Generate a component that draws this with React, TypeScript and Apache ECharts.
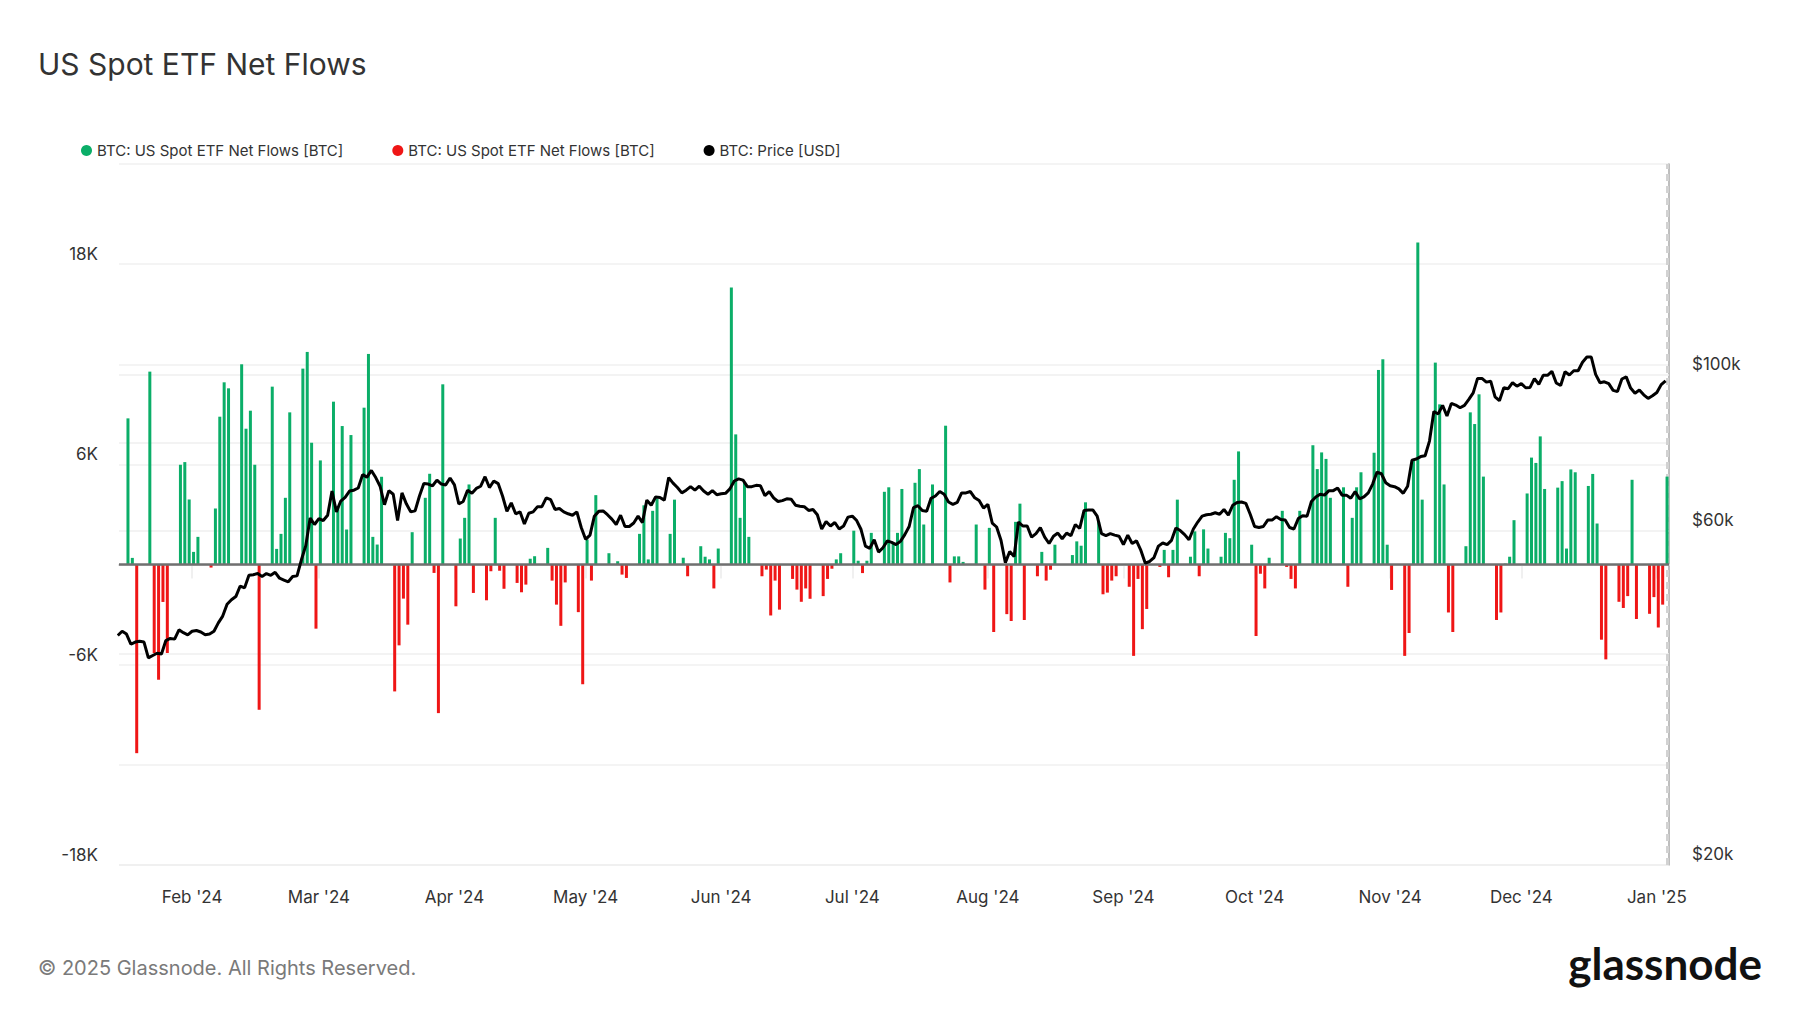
import React, { useEffect, useRef } from 'react';
import * as echarts from 'echarts';

const TITLE = 'US Spot ETF Net Flows';
const FOOTER = '© 2025 Glassnode. All Rights Reserved.';
const LOGO = 'glassnode';
const NAME_IN = 'BTC: US Spot ETF Net Flows [BTC]';
const NAME_OUT = 'BTC: US Spot ETF Net Flows [BTC] ';
const NAME_PRICE = 'BTC: Price [USD]';

const MONTHS = ['Jan', 'Feb', 'Mar', 'Apr', 'May', 'Jun', 'Jul', 'Aug', 'Sep', 'Oct', 'Nov', 'Dec'];
const FLOW_LABELED_TICKS = [-18, -6, 6, 18];
const PRICE_GRID_TICKS = [40, 60, 80, 100];
const PRICE_LABELED_TICKS = [20, 60, 100];

const GREEN = '#0bae68';
const RED = '#ef1616';

// daily net flows, thousands of BTC
const NET_FLOWS_K: [string, number][] = [
  ['2024-01-17', 8.76], ['2024-01-18', 0.4], ['2024-01-19', -11.3], ['2024-01-22', 11.56], ['2024-01-23', -5.3],
  ['2024-01-24', -6.9], ['2024-01-25', -2.24], ['2024-01-26', -5.3], ['2024-01-29', 5.98], ['2024-01-30', 6.14],
  ['2024-01-31', 3.9],
  ['2024-02-01', 0.76], ['2024-02-02', 1.66], ['2024-02-05', -0.18], ['2024-02-06', 3.36], ['2024-02-07', 8.86],
  ['2024-02-08', 10.92], ['2024-02-09', 10.56], ['2024-02-12', 12.0], ['2024-02-13', 8.14], ['2024-02-14', 9.22],
  ['2024-02-15', 5.98], ['2024-02-16', -8.7], ['2024-02-19', 10.66], ['2024-02-20', 0.94], ['2024-02-21', 1.84],
  ['2024-02-22', 4.0], ['2024-02-23', 9.12], ['2024-02-26', 11.74], ['2024-02-27', 12.74], ['2024-02-28', 7.3],
  ['2024-02-29', -3.84],
  ['2024-03-01', 6.24], ['2024-03-04', 9.76], ['2024-03-05', 3.5], ['2024-03-06', 8.3], ['2024-03-07', 2.1],
  ['2024-03-08', 7.76], ['2024-03-11', 9.4], ['2024-03-12', 12.62], ['2024-03-13', 1.66], ['2024-03-14', 1.2],
  ['2024-03-15', 5.26], ['2024-03-18', -7.6], ['2024-03-19', -4.84], ['2024-03-20', -2.04], ['2024-03-21', -3.6],
  ['2024-03-22', 1.94], ['2024-03-25', 4.0], ['2024-03-26', 5.44], ['2024-03-27', -0.5], ['2024-03-28', -8.9],
  ['2024-03-29', 10.8],
  ['2024-04-01', -2.5], ['2024-04-02', 1.56], ['2024-04-03', 2.8], ['2024-04-04', 4.8], ['2024-04-05', -1.7],
  ['2024-04-08', -2.14], ['2024-04-09', -0.4], ['2024-04-10', 2.8], ['2024-04-11', -0.37], ['2024-04-12', -1.45],
  ['2024-04-15', -1.1], ['2024-04-16', -1.66], ['2024-04-17', -1.2], ['2024-04-18', 0.35], ['2024-04-19', 0.5],
  ['2024-04-22', 1.0], ['2024-04-23', -0.96], ['2024-04-24', -2.4], ['2024-04-25', -3.67], ['2024-04-26', -1.07],
  ['2024-04-29', -2.85], ['2024-04-30', -7.17],
  ['2024-05-01', 1.5], ['2024-05-02', -0.96], ['2024-05-03', 4.16], ['2024-05-06', 0.68], ['2024-05-08', 0.2],
  ['2024-05-09', -0.6], ['2024-05-10', -0.8], ['2024-05-13', 1.84], ['2024-05-14', 3.55], ['2024-05-15', 0.31],
  ['2024-05-16', 3.22], ['2024-05-17', 3.95], ['2024-05-20', 1.84], ['2024-05-21', 3.89], ['2024-05-23', 0.41],
  ['2024-05-24', -0.7], ['2024-05-27', 1.1], ['2024-05-28', 0.47], ['2024-05-29', 0.31], ['2024-05-30', -1.43],
  ['2024-05-31', 0.96],
  ['2024-06-03', 16.6], ['2024-06-04', 7.8], ['2024-06-05', 2.8], ['2024-06-06', 4.94], ['2024-06-07', 1.66],
  ['2024-06-10', -0.7], ['2024-06-11', -0.3], ['2024-06-12', -3.05], ['2024-06-13', -0.96], ['2024-06-14', -2.7],
  ['2024-06-17', -0.86], ['2024-06-18', -1.5], ['2024-06-19', -2.23], ['2024-06-20', -1.43], ['2024-06-21', -2.05],
  ['2024-06-24', -1.89], ['2024-06-25', -0.86], ['2024-06-26', -0.25], ['2024-06-27', 0.31], ['2024-06-28', 0.68],
  ['2024-07-01', 2.03], ['2024-07-02', 0.23], ['2024-07-03', -0.51], ['2024-07-04', 0.23], ['2024-07-05', 1.9],
  ['2024-07-08', 4.36], ['2024-07-09', 4.63], ['2024-07-10', 1.23], ['2024-07-11', 1.9], ['2024-07-12', 4.53],
  ['2024-07-15', 4.9], ['2024-07-16', 5.72], ['2024-07-17', 2.4], ['2024-07-19', 4.8], ['2024-07-22', 8.32],
  ['2024-07-23', -1.07], ['2024-07-24', 0.49], ['2024-07-25', 0.49], ['2024-07-26', 0.16], ['2024-07-29', 2.4],
  ['2024-07-31', -1.5],
  ['2024-08-01', 2.2], ['2024-08-02', -4.04], ['2024-08-05', -2.97], ['2024-08-06', -3.38], ['2024-08-07', 2.56],
  ['2024-08-08', 3.65], ['2024-08-09', -3.32], ['2024-08-12', -0.7], ['2024-08-13', 0.76], ['2024-08-14', -0.96],
  ['2024-08-15', -0.31], ['2024-08-16', 1.19], ['2024-08-20', 0.57], ['2024-08-21', 1.39], ['2024-08-22', 1.13],
  ['2024-08-23', 3.73], ['2024-08-26', 2.56], ['2024-08-27', -1.78], ['2024-08-28', -1.68], ['2024-08-29', -0.96],
  ['2024-08-30', -0.7],
  ['2024-09-02', -1.33], ['2024-09-03', -5.47], ['2024-09-04', -0.86], ['2024-09-05', -3.87], ['2024-09-06', -2.66],
  ['2024-09-09', -0.14], ['2024-09-10', 0.88], ['2024-09-11', -0.76], ['2024-09-12', 0.88], ['2024-09-13', 3.89],
  ['2024-09-16', 0.47], ['2024-09-17', 1.99], ['2024-09-18', -0.7], ['2024-09-19', 2.11], ['2024-09-20', 0.96],
  ['2024-09-23', 0.47], ['2024-09-24', 1.9], ['2024-09-25', 1.58], ['2024-09-26', 5.08], ['2024-09-27', 6.78],
  ['2024-09-30', 1.19],
  ['2024-10-01', -4.28], ['2024-10-02', -0.55], ['2024-10-03', -1.43], ['2024-10-04', 0.41], ['2024-10-07', 3.22],
  ['2024-10-08', -0.14], ['2024-10-09', -0.86], ['2024-10-10', -1.43], ['2024-10-11', 3.22], ['2024-10-14', 7.15],
  ['2024-10-15', 5.72], ['2024-10-16', 6.72], ['2024-10-17', 6.33], ['2024-10-18', 4.0], ['2024-10-21', 4.63],
  ['2024-10-22', -1.33], ['2024-10-23', 2.8], ['2024-10-24', 4.63], ['2024-10-25', 5.53], ['2024-10-28', 6.7],
  ['2024-10-29', 11.66], ['2024-10-30', 12.3], ['2024-10-31', 1.19],
  ['2024-11-01', -1.52], ['2024-11-04', -5.47], ['2024-11-05', -4.1], ['2024-11-06', 6.31], ['2024-11-07', 19.3],
  ['2024-11-08', 3.89], ['2024-11-11', 12.1], ['2024-11-12', 9.6], ['2024-11-13', 4.8], ['2024-11-14', -2.87],
  ['2024-11-15', -4.04], ['2024-11-18', 1.1], ['2024-11-19', 9.12], ['2024-11-20', 8.42], ['2024-11-21', 10.2],
  ['2024-11-22', 5.27], ['2024-11-25', -3.32], ['2024-11-26', -2.87], ['2024-11-27', 0.06], ['2024-11-28', 0.47],
  ['2024-11-29', 2.66],
  ['2024-12-02', 4.26], ['2024-12-03', 6.41], ['2024-12-04', 6.09], ['2024-12-05', 7.68], ['2024-12-06', 4.53],
  ['2024-12-09', 4.61], ['2024-12-10', 5.0], ['2024-12-11', 0.96], ['2024-12-12', 5.7], ['2024-12-13', 5.53],
  ['2024-12-16', 4.71], ['2024-12-17', 5.43], ['2024-12-18', 2.46], ['2024-12-19', -4.5], ['2024-12-20', -5.68],
  ['2024-12-23', -2.23], ['2024-12-24', -2.6], ['2024-12-25', -1.89], ['2024-12-26', 5.08], ['2024-12-27', -3.26],
  ['2024-12-30', -2.95], ['2024-12-31', -1.95],
  ['2025-01-01', -3.77], ['2025-01-02', -2.4], ['2025-01-03', 5.27],
];

// daily BTC price, thousands of USD, from 2024-01-15
const PRICE_START = '2024-01-15';
const PRICE_K = [
  42.5, 43.1, 42.7, 41.3, 41.6, 41.7, 41.6, 39.5, 39.8, 40.1, 40.0, 41.8, 42.1, 42.0, 43.3, 42.9, 42.6,
  43.1, 43.2, 43.0, 42.6, 42.7, 43.1, 44.3, 45.3, 47.1, 47.8, 48.3, 50.0, 49.7, 51.8, 51.9, 52.1, 51.6, 52.1, 51.8, 52.3,
  51.3, 51.0, 50.7, 51.6, 51.7, 54.5, 57.1, 62.5, 61.2,
  62.4, 62.0, 63.1, 68.3, 63.8, 66.1, 66.9, 68.3, 68.5, 69.0, 72.1, 71.5, 73.1, 71.4, 69.4, 65.3, 68.4, 67.6, 62.0, 67.9,
  65.5, 63.8, 64.0, 67.2, 70.0, 69.9, 69.5, 70.8, 69.9, 69.7, 71.3,
  69.7, 65.5, 66.0, 68.5, 67.8, 68.9, 69.4, 71.6, 69.1, 70.6, 70.0, 67.2, 63.9, 65.7, 63.4, 63.8, 61.3, 63.5, 63.8, 64.9,
  64.9, 66.8, 66.4, 64.3, 64.5, 63.8, 63.4, 63.1, 63.8, 60.6,
  58.3, 59.1, 62.9, 63.9, 64.0, 63.2, 62.3, 61.2, 63.1, 60.8, 60.8, 61.5, 62.9, 61.6, 66.3, 65.2, 67.0, 66.9, 66.3, 71.4,
  70.1, 69.1, 67.9, 68.5, 69.3, 68.5, 69.4, 68.3, 67.6, 68.4, 67.5,
  67.7, 67.8, 68.8, 70.6, 71.1, 70.8, 69.3, 69.3, 69.6, 69.5, 67.3, 68.2, 66.8, 66.0, 66.2, 66.6, 66.5, 65.2, 65.0, 64.9,
  64.1, 64.3, 63.2, 60.3, 61.8, 60.9, 61.6, 60.3, 60.9, 62.7,
  62.9, 62.0, 60.2, 57.0, 56.6, 58.2, 55.9, 56.7, 58.0, 57.7, 57.3, 57.9, 59.2, 60.8, 64.7, 65.1, 64.1, 63.9, 66.7, 67.2,
  68.2, 67.6, 65.9, 65.4, 65.8, 67.9, 67.9, 68.2, 66.8, 66.2, 64.6,
  65.4, 61.5, 60.7, 58.1, 54.0, 56.0, 55.1, 61.7, 60.9, 60.9, 58.7, 59.4, 60.6, 58.7, 57.5, 58.9, 59.5, 58.4, 59.5, 59.0,
  61.2, 60.4, 64.1, 64.2, 64.2, 62.9, 59.4, 59.0, 59.4, 59.1, 58.9,
  57.3, 59.1, 57.5, 58.0, 56.2, 53.9, 54.2, 54.9, 57.0, 57.6, 57.3, 58.1, 60.5, 60.0, 59.2, 58.2, 60.3, 61.7, 62.9, 63.2,
  63.3, 63.6, 63.3, 64.3, 63.1, 65.2, 65.8, 65.9, 65.6, 63.3,
  60.8, 60.6, 60.8, 62.1, 62.1, 62.8, 62.2, 62.1, 60.6, 60.3, 62.4, 63.0, 62.9, 66.0, 67.0, 67.6, 67.4, 68.4, 68.4, 69.0,
  67.4, 67.4, 66.7, 68.2, 66.6, 67.0, 67.9, 69.9, 72.7, 72.3, 70.2,
  69.5, 69.3, 68.8, 67.8, 69.4, 75.6, 75.9, 76.5, 76.7, 80.5, 88.7, 88.0, 90.5, 87.4, 91.1, 90.6, 89.8, 90.5, 92.3, 94.3,
  98.9, 98.9, 97.7, 98.0, 93.1, 91.9, 95.9, 95.6, 97.5, 96.4,
  97.2, 95.9, 96.0, 98.8, 97.0, 99.9, 99.9, 101.2, 97.4, 96.6, 101.1, 100.0, 101.4, 101.4, 104.3, 106.1, 106.1, 100.2,
  97.5, 97.8, 97.2, 95.1, 94.7, 98.7, 99.4, 95.8, 94.2, 95.2, 93.7, 92.6, 93.4,
  94.4, 96.9, 98.1,
];

const X_MIN = Date.UTC(2024, 0, 15, 15);
const X_MAX = Date.UTC(2025, 0, 3, 10, 30);

export default function App() {
  const ref = useRef<HTMLDivElement>(null);

  useEffect(() => {
    if (!ref.current) return;
    const chart = echarts.init(ref.current, null, { renderer: 'svg' });
    const DAY = 86400000;
    const HOUR = 3600000;
    const BAR_SHIFT = 8 * HOUR;
    const start = Date.parse(PRICE_START);
    const priceData = PRICE_K.map((p, i) => [start + i * DAY, p]);
    const inflow = NET_FLOWS_K.filter(([, v]) => v > 0).map(([d, v]) => [Date.parse(d) + BAR_SHIFT, v]);
    const outflow = NET_FLOWS_K.filter(([, v]) => v < 0).map(([d, v]) => [Date.parse(d) + BAR_SHIFT, v]);
    const FONT = 'Inter';
    const AXIS_FONT_SIZE = 17;

    chart.setOption({
      animation: false,
      useUTC: true,
      backgroundColor: '#ffffff',
      textStyle: { fontFamily: FONT },
      legend: {
        left: 76,
        top: 138,
        icon: 'circle',
        itemWidth: 11,
        itemHeight: 11,
        itemGap: 49,
        selectedMode: false,
        data: [NAME_IN, NAME_OUT, NAME_PRICE],
        formatter: (n: string) => n.trim(),
        textStyle: { fontSize: 15, color: '#333333', fontFamily: FONT },
      },
      grid: { left: 119, right: 131, top: 164, bottom: 148, containLabel: false },
      xAxis: {
        type: 'time',
        min: X_MIN,
        max: X_MAX,
        splitNumber: 12,
        minInterval: 28 * DAY,
        maxInterval: 31 * DAY,
        axisLine: { show: true, lineStyle: { color: '#e2e2e2', width: 2 } },
        axisTick: { show: true, length: 14, lineStyle: { color: '#ebebeb', width: 1.5 } },
        splitLine: { show: false },
        axisLabel: {
          margin: 23,
          fontSize: AXIS_FONT_SIZE,
          color: '#333333',
          fontFamily: FONT,
          hideOverlap: false,
          formatter: (v: number) => {
            const d = new Date(v);
            if (d.getUTCDate() !== 1 || d.getUTCHours() !== 0 || d.getUTCMinutes() !== 0) return '';
            return `${MONTHS[d.getUTCMonth()]} '${String(d.getUTCFullYear()).slice(2)}`;
          },
        },
      },
      yAxis: [
        {
          type: 'value',
          position: 'left',
          min: -18,
          max: 24,
          interval: 6,
          axisLine: { show: false },
          axisTick: { show: false },
          splitLine: { show: true, lineStyle: { color: '#f0f0f0', width: 1.5 } },
          axisLabel: {
            margin: 21,
            fontSize: AXIS_FONT_SIZE,
            color: '#333333',
            fontFamily: FONT,
            verticalAlign: 'bottom',
            lineHeight: 20,
            formatter: (v: number) => (FLOW_LABELED_TICKS.includes(v) ? `${v}K` : ''),
          },
        },
        {
          type: 'log',
          logBase: 10,
          position: 'right',
          min: 20,
          max: 200,
          axisLine: { show: true, lineStyle: { color: '#a8a8a8', width: 1.5 } },
          axisTick: { show: false },
          axisLabel: { show: false },
          splitLine: { show: false },
        },
      ],
      series: [
        {
          type: 'line',
          yAxisIndex: 1,
          data: priceData,
          symbol: 'none',
          silent: true,
          z: 1,
          lineStyle: { opacity: 0 },
          markLine: {
            silent: true,
            z: 1,
            symbol: 'none',
            lineStyle: { color: '#efefef', width: 1.5, type: 'solid' },
            label: {
              show: true,
              position: 'end',
              distance: 23,
              verticalAlign: 'bottom',
              lineHeight: 22,
              fontSize: AXIS_FONT_SIZE,
              color: '#333333',
              fontFamily: FONT,
              formatter: (p: any) => (PRICE_LABELED_TICKS.includes(p.value) ? `$${p.value}k` : ''),
            },
            data: [20, ...PRICE_GRID_TICKS].map((v) => ({ yAxis: v })),
          },
        },
        {
          name: NAME_IN,
          type: 'bar',
          yAxisIndex: 0,
          data: inflow,
          barWidth: 3,
          barGap: '-100%',
          itemStyle: { color: GREEN },
          z: 2,
          markLine: {
            silent: true,
            z: 4,
            symbol: 'none',
            label: { show: false },
            lineStyle: { color: '#707070', width: 2.6, type: 'solid' },
            data: [{ yAxis: 0 }],
          },
        },
        {
          name: NAME_OUT,
          type: 'bar',
          yAxisIndex: 0,
          data: outflow,
          barWidth: 3,
          barGap: '-100%',
          itemStyle: { color: RED },
          z: 2,
          markLine: {
            silent: true,
            z: 1,
            symbol: 'none',
            label: { show: false },
            lineStyle: { color: '#d2d2d2', width: 3, type: [7, 5] },
            data: [{ xAxis: X_MAX - 2 * HOUR }],
          },
        },
        {
          name: NAME_PRICE,
          type: 'line',
          yAxisIndex: 1,
          data: priceData,
          symbol: 'none',
          z: 6,
          itemStyle: { color: '#000000' },
          lineStyle: { color: '#000000', width: 3 },
        },
      ],
      graphic: [
        {
          type: 'text',
          x: 38,
          y: 64,
          style: {
            text: TITLE,
            fontSize: 30,
            fontFamily: FONT,
            fill: '#333333',
            align: 'left',
            verticalAlign: 'middle',
            textAlign: 'left',
            textVerticalAlign: 'middle',
          },
        },
        {
          type: 'text',
          x: 38,
          y: 968,
          style: {
            text: FOOTER,
            fontSize: 20,
            fontFamily: FONT,
            fill: '#7a7a7a',
            align: 'left',
            verticalAlign: 'middle',
            textAlign: 'left',
            textVerticalAlign: 'middle',
          },
        },
        {
          type: 'text',
          x: 1762,
          y: 963,
          style: {
            text: LOGO,
            fontSize: 44,
            fontWeight: 700,
            fontFamily: 'Lato',
            fill: '#111111',
            align: 'right',
            verticalAlign: 'middle',
            textAlign: 'right',
            textVerticalAlign: 'middle',
          },
        },
      ],
    });

    return () => chart.dispose();
  }, []);

  return (
    <div
      ref={ref}
      style={{ position: 'fixed', left: 0, top: 0, width: 1800, height: 1013, background: '#ffffff' }}
    />
  );
}
